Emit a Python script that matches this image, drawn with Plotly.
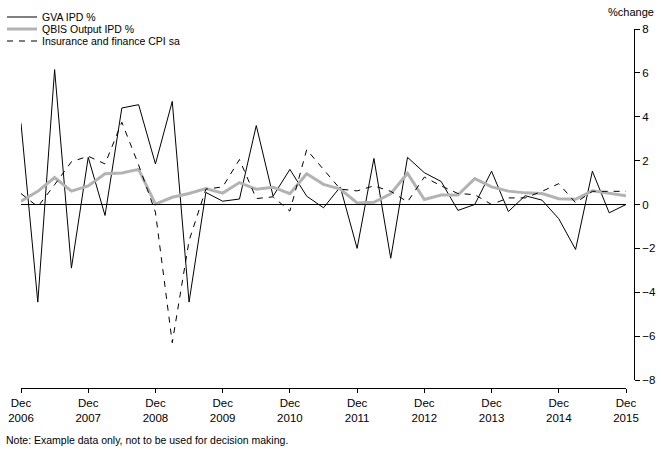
import plotly.graph_objects as go

# Quarterly periods, Dec 2006 .. Dec 2015
months = ["Mar", "Jun", "Sep", "Dec"]
quarters = ["Dec 2006"] + [f"{m} {y}" for y in range(2007, 2016) for m in months]

gva_ipd = [3.7, -4.45, 6.15, -2.9, 2.15, -0.5, 4.4, 4.55, 1.85, 4.7,
           -4.45, 0.55, 0.15, 0.25, 3.6, 0.38, 1.6, 0.38, -0.15, 0.8,
           -2.0, 2.1, -2.45, 2.15, 1.45, 1.05, -0.27, 0.0, 1.52, -0.32,
           0.4, 0.2, -0.65, -2.05, 1.52, -0.38, 0.0]
qbis_ipd = [0.15, 0.6, 1.23, 0.61, 0.85, 1.4, 1.44, 1.6, 0.02, 0.33,
            0.5, 0.73, 0.52, 1.0, 0.7, 0.79, 0.49, 1.4, 0.92, 0.7,
            0.07, 0.1, 0.49, 1.42, 0.23, 0.43, 0.43, 1.18, 0.8, 0.61,
            0.53, 0.5, 0.26, 0.24, 0.63, 0.53, 0.4]
cpi_sa = [0.5, -0.1, 0.9, 1.95, 2.2, 1.85, 3.75, 1.8, -0.35, -6.3,
          -1.65, 0.7, 0.8, 2.05, 0.27, 0.35, -0.3, 2.5, 1.6, 0.7,
          0.62, 0.85, 0.6, 0.12, 1.25, 0.85, 0.5, 0.45, 0.0, 0.3,
          0.3, 0.6, 0.95, 0.08, 0.6, 0.6, 0.6]

x_tick_vals = [q for q in quarters if q.startswith("Dec")]
x_tick_text = [q.replace(" ", "<br>") for q in x_tick_vals]
y_tick_vals = [-8, -6, -4, -2, 0, 2, 4, 6, 8]

FONT = "Liberation Sans, Arial, sans-serif"

L, R, T, B = 21, 27, 29, 66
W, H = 661, 454
pw = W - L - R
ph = H - T - B


def px_x(p):
    return (p - L) / pw


def px_y(p):
    return (H - B - p) / ph


fig = go.Figure()
fig.add_trace(go.Scatter(x=quarters, y=gva_ipd, mode="lines", name="GVA IPD %",
                         line=dict(color="black", width=1), legend="legend"))
fig.add_trace(go.Scatter(x=quarters, y=qbis_ipd, mode="lines", name="QBIS Output IPD %",
                         line=dict(color="#b3b3b3", width=3), legend="legend2"))
fig.add_trace(go.Scatter(x=quarters, y=cpi_sa, mode="lines", name="Insurance and finance CPI sa",
                         line=dict(color="black", width=1, dash="6px,6px"), legend="legend3"))

fig.add_shape(type="line", xref="x domain", yref="y", x0=0, x1=1, y0=0, y1=0,
              line=dict(color="black", width=1), layer="above")

leg_common = dict(xanchor="left", yanchor="middle", bgcolor="rgba(0,0,0,0)", borderwidth=0,
                  font=dict(family=FONT, size=10.5, color="black"), itemwidth=30)

fig.update_layout(
    width=W, height=H,
    margin=dict(l=L, r=R, t=T, b=B, pad=0, autoexpand=False),
    paper_bgcolor="white", plot_bgcolor="white",
    font=dict(family=FONT, size=11, color="black"),
    showlegend=True,
    legend=dict(x=px_x(2), y=px_y(17), **leg_common),
    legend2=dict(x=px_x(2), y=px_y(29), **leg_common),
    legend3=dict(x=px_x(2), y=px_y(41), **leg_common),
    xaxis=dict(type="category", domain=[0, 605 / pw], range=[0, len(quarters) - 1],
               anchor="free", position=0, automargin=False,
               tickmode="array", tickvals=x_tick_vals, ticktext=x_tick_text,
               showline=True, linecolor="black", linewidth=1,
               ticks="outside", ticklen=4, tickcolor="black", tickwidth=1,
               showgrid=False, zeroline=False, tickangle=0,
               tickfont=dict(size=11.5)),
    yaxis=dict(range=[-8, 8], domain=[8 / ph, 1], anchor="free", position=1, side="right",
               automargin=False,
               tickmode="array", tickvals=y_tick_vals,
               showline=True, linecolor="black", linewidth=1,
               ticks="outside", ticklen=5, tickcolor="black", tickwidth=1,
               showgrid=False, zeroline=False,
               tickfont=dict(size=11.5)),
    annotations=[
        dict(text="%change", xref="paper", yref="paper",
             x=px_x(656), y=px_y(12),
             xanchor="right", yanchor="middle", showarrow=False,
             font=dict(size=11)),
        dict(text="Note: Example data only, not to be used for decision making.",
             xref="paper", yref="paper", x=px_x(4), y=px_y(440),
             xanchor="left", yanchor="middle", showarrow=False,
             font=dict(size=10.5)),
    ],
)

fig.write_html("out.html", config={"displayModeBar": False},
               post_script="document.body.style.margin='0';document.body.style.padding='0';")
